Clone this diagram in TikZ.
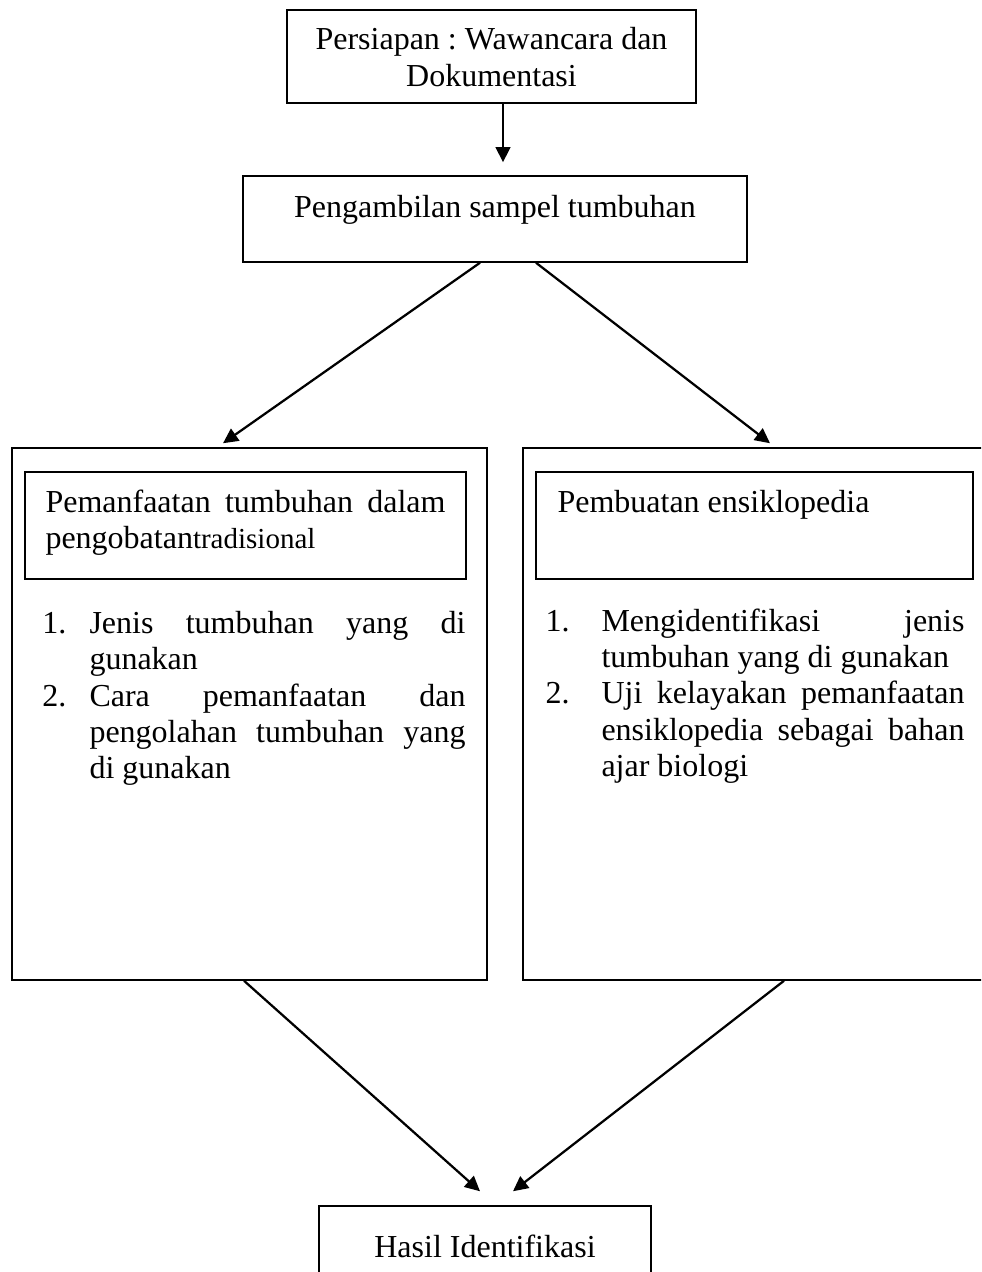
\documentclass[tikz,border=0pt]{standalone}
\usepackage{fontspec}
\setmainfont{Liberation Serif}
\usetikzlibrary{arrows.meta,calc}
\frenchspacing
\tikzset{
  box/.style={draw, rectangle, line width=0.6pt, inner sep=0pt},
  txt/.style={inner sep=0pt, font=\fontsize{12.8pt}{14.6pt}\selectfont},
  arr/.style={line width=0.9pt, -{Triangle[length=6pt,width=5.8pt]}},
}
\newcommand{\jln}[2]{\makebox[#1][s]{#2}}
\begin{document}
\begin{tikzpicture}[x=0.4pt,y=-0.4pt]
\useasboundingbox (0,0) rectangle (981,1272);
\fill[white] (0,0) rectangle (981,1272);
\clip (0,0) rectangle (981,1272);

% boxes
\node[box, minimum width=163.6pt, minimum height=37.2pt] (prep) at (491.5,56.5) {};
\node[box, minimum width=201.6pt, minimum height=34.4pt] (samp) at (495,219) {};
\node[box, minimum width=190pt, minimum height=212.8pt] (lout) at (249.5,714) {};
\node[box, minimum width=176.4pt, minimum height=42.8pt] (lin) at (245.5,525.5) {};
\node[box, minimum width=192pt, minimum height=212.8pt] (rout) at (763,714) {};
\node[box, minimum width=174.8pt, minimum height=42.8pt] (rin) at (754.5,525.5) {};
\node[box, minimum width=132.8pt, minimum height=37.6pt] (hasil) at (485,1253) {};

% texts
\node[txt, anchor=base] (tp1) at (491.5,50) {Persiapan : Wawancara dan};
\node[txt, anchor=base] (tp2) at (491.5,87) {Dokumentasi};
\node[txt, anchor=base] (ts) at (495,217) {Pengambilan sampel tumbuhan};

\node[txt, anchor=base west] (tl1) at (45,512) {\jln{160pt}{Pemanfaatan tumbuhan dalam}};
\node[txt, anchor=base west] (tl2) at (45,548) {pengobatan{\fontsize{11.6pt}{13pt}\selectfont tradisional}};
\node[txt, anchor=base west] (tr1) at (557,512) {Pembuatan ensiklopedia};

\node[txt, anchor=base west] (ln1) at (42,633) {1.};
\node[txt, anchor=base west] (la1) at (89,633) {\jln{150.4pt}{Jenis tumbuhan yang di}};
\node[txt, anchor=base west] (la2) at (89,669) {gunakan};
\node[txt, anchor=base west] (ln2) at (42,706) {2.};
\node[txt, anchor=base west] (la3) at (89,706) {\jln{150.4pt}{Cara pemanfaatan dan}};
\node[txt, anchor=base west] (la4) at (89,742) {\jln{150.4pt}{pengolahan tumbuhan yang}};
\node[txt, anchor=base west] (la5) at (89,778) {di gunakan};

\node[txt, anchor=base west] (rn1) at (545,631) {1.};
\node[txt, anchor=base west] (ra1) at (601,631) {\jln{145.2pt}{Mengidentifikasi jenis}};
\node[txt, anchor=base west] (ra2) at (601,667) {tumbuhan yang di gunakan};
\node[txt, anchor=base west] (rn2) at (545,703) {2.};
\node[txt, anchor=base west] (ra3) at (601,703) {\jln{145.2pt}{Uji kelayakan pemanfaatan}};
\node[txt, anchor=base west] (ra4) at (601,740) {\jln{145.2pt}{ensiklopedia sebagai bahan}};
\node[txt, anchor=base west] (ra5) at (601,776) {ajar biologi};

\node[txt, anchor=base] (th) at (485,1257) {Hasil Identifikasi};

% connectors
\draw[arr] ($(prep.south)+(11.5,0)$) -- ($(samp.north)+(8,-13)$);
\draw[arr] ($(samp.south)+(-15,0)$) -- ($(lout.north)+(-26.5,-4)$);
\draw[arr] ($(samp.south)+(41,0)$) -- ($(rout.north)+(7,-4)$);
\draw[arr] ($(lout.south)+(-5.5,0)$) -- ($(hasil.north)+(-5,-14)$);
\draw[arr] ($(rout.south)+(21,0)$) -- ($(hasil.north)+(28,-14)$);
\end{tikzpicture}
\end{document}
